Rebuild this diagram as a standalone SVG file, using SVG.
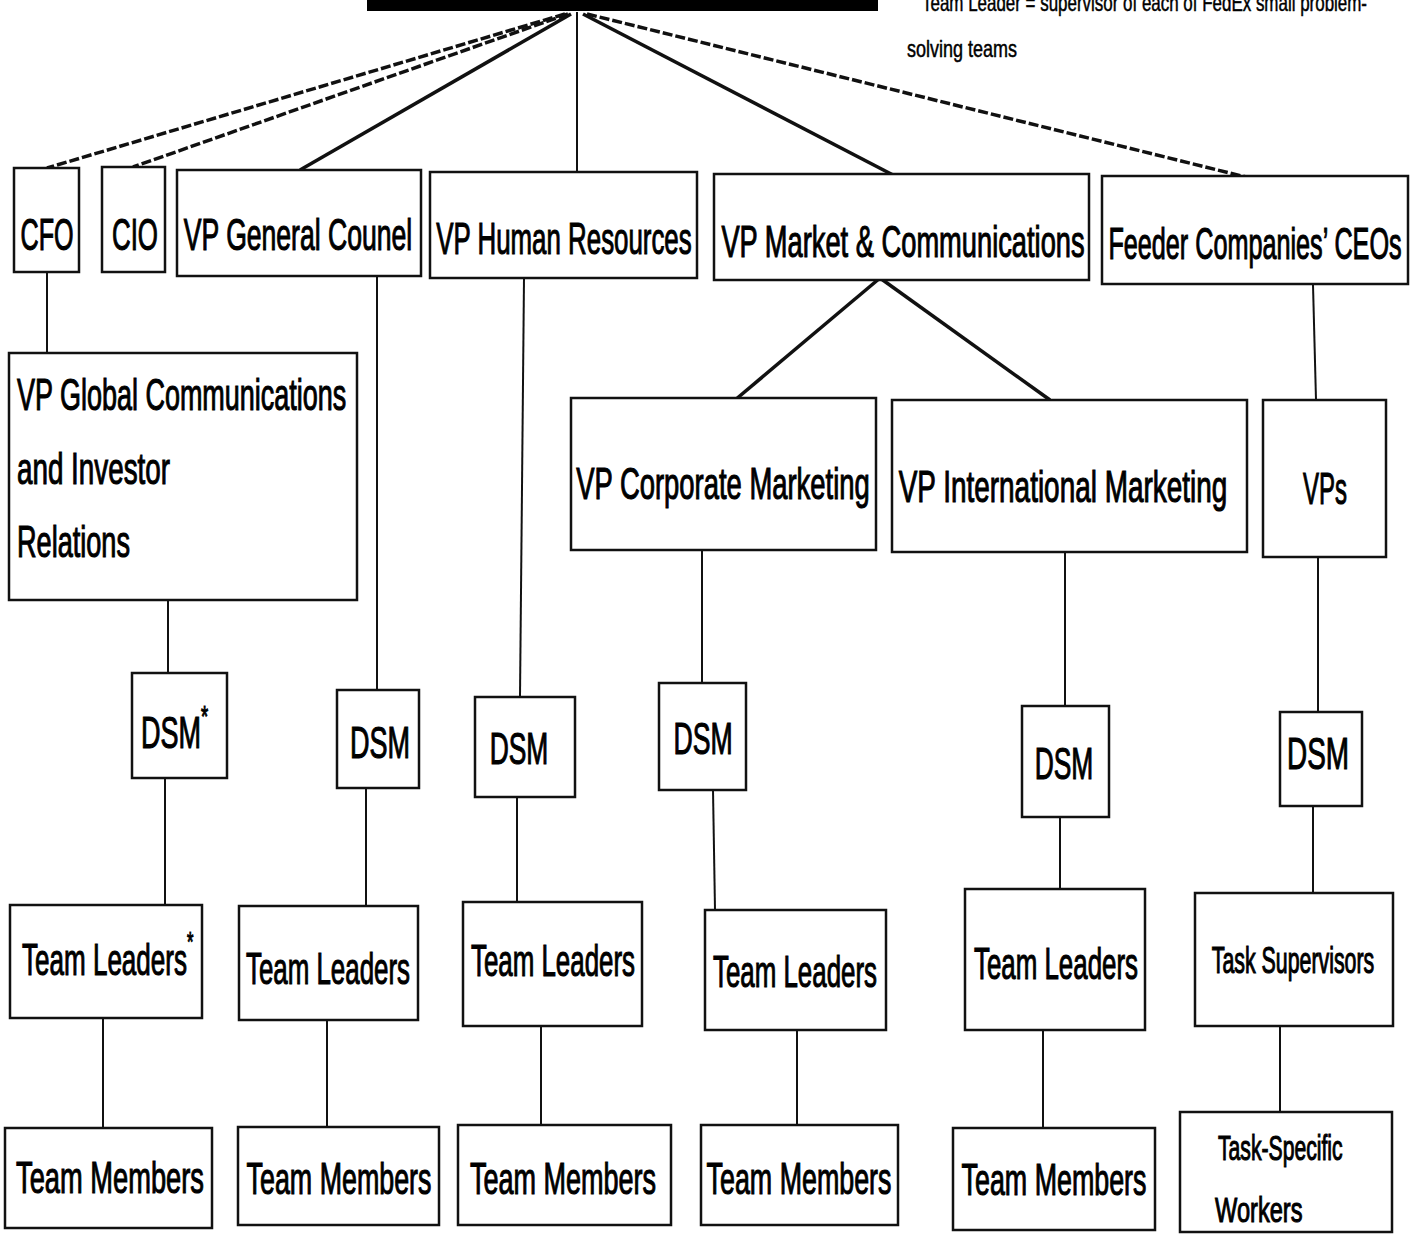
<svg xmlns="http://www.w3.org/2000/svg" width="1414" height="1237" viewBox="0 0 1414 1237">
<style>
.box{fill:#fff;stroke:#111;stroke-width:2.5}
.t{font-family:"Liberation Sans",Arial,sans-serif;font-size:44px;fill:#000;text-anchor:middle;stroke:#000;stroke-width:1.1}
.l{text-anchor:start}
.s{font-size:36px}
.c{stroke:#111;stroke-width:2;fill:none}
.f{stroke:#111;stroke-width:3.5;fill:none}
.d{stroke-dasharray:10 3}
.note{font-family:"Liberation Sans",Arial,sans-serif;font-size:24px;fill:#000;stroke:#000;stroke-width:0.5}
</style>
<rect x="0" y="0" width="1414" height="1237" fill="#fff"/>
<rect id="top-bar" x="367" y="0" width="511" height="11" fill="#000"/>
<g id="note">
<text class="note" x="922" y="11" textLength="445" lengthAdjust="spacingAndGlyphs">Team Leader = supervisor of each of FedEx small problem-</text>
<text class="note" transform="translate(907,57) scale(0.75,1)">solving teams</text>
</g>
<g id="connectors">
<line class="f d" x1="565" y1="14" x2="47" y2="168"/>
<line class="f d" x1="568" y1="14" x2="133" y2="167"/>
<line class="f" x1="571" y1="14" x2="300" y2="170"/>
<line class="c" x1="577" y1="12" x2="577" y2="172"/>
<line class="f" x1="583" y1="14" x2="895" y2="176"/>
<line class="f d" x1="587" y1="14" x2="1250" y2="178"/>
<line class="c" x1="47" y1="272" x2="47" y2="353"/>
<line class="f" x1="880" y1="278" x2="735" y2="400"/>
<line class="f" x1="880" y1="278" x2="1050" y2="400"/>
<line class="c" x1="1313" y1="285" x2="1316" y2="400"/>
<line class="c" x1="168" y1="600" x2="168" y2="673"/>
<line class="c" x1="377" y1="276" x2="377" y2="690"/>
<line class="c" x1="524" y1="278" x2="520" y2="697"/>
<line class="c" x1="702" y1="550" x2="702" y2="683"/>
<line class="c" x1="1065" y1="552" x2="1065" y2="706"/>
<line class="c" x1="1318" y1="557" x2="1318" y2="712"/>
<line class="c" x1="165" y1="778" x2="165" y2="905"/>
<line class="c" x1="366" y1="788" x2="366" y2="906"/>
<line class="c" x1="517" y1="797" x2="517" y2="902"/>
<line class="c" x1="713" y1="790" x2="715" y2="910"/>
<line class="c" x1="1060" y1="817" x2="1060" y2="889"/>
<line class="c" x1="1313" y1="806" x2="1313" y2="893"/>
<line class="c" x1="103" y1="1018" x2="103" y2="1128"/>
<line class="c" x1="327" y1="1020" x2="327" y2="1127"/>
<line class="c" x1="541" y1="1026" x2="541" y2="1125"/>
<line class="c" x1="797" y1="1030" x2="797" y2="1125"/>
<line class="c" x1="1043" y1="1030" x2="1043" y2="1128"/>
<line class="c" x1="1280" y1="1026" x2="1280" y2="1112"/>
</g>
<g id="cfo"><rect class="box" x="14" y="168" width="65" height="104"/><text class="t" transform="translate(47,250) scale(0.571,1)">CFO</text></g>
<g id="cio"><rect class="box" x="102" y="167" width="63" height="105"/><text class="t" transform="translate(135,250) scale(0.588,1)">CIO</text></g>
<g id="vp-general-counel"><rect class="box" x="177" y="170" width="244" height="106"/><text class="t" transform="translate(298,250) scale(0.604,1)">VP General Counel</text></g>
<g id="vp-human-resources"><rect class="box" x="430" y="172" width="267" height="106"/><text class="t" transform="translate(564,254) scale(0.588,1)">VP Human Resources</text></g>
<g id="vp-market-communications"><rect class="box" x="714" y="174" width="375" height="106"/><text class="t" transform="translate(903,257) scale(0.62,1)">VP Market &amp; Communications</text></g>
<g id="feeder-ceos"><rect class="box" x="1102" y="176" width="306" height="108"/><text class="t" transform="translate(1255,259) scale(0.573,1)">Feeder Companies’ CEOs</text></g>
<g id="vp-global-comm"><rect class="box" x="9" y="353" width="348" height="247"/>
<text class="t l" transform="translate(17,410) scale(0.613,1)">VP Global Communications</text>
<text class="t l" transform="translate(17,484) scale(0.632,1)">and Investor</text>
<text class="t l" transform="translate(17,557) scale(0.616,1)">Relations</text></g>
<g id="vp-corporate-marketing"><rect class="box" x="571" y="398" width="305" height="152"/><text class="t" transform="translate(723,499) scale(0.623,1)">VP Corporate Marketing</text></g>
<g id="vp-international-marketing"><rect class="box" x="892" y="400" width="355" height="152"/><text class="t" transform="translate(1063,502) scale(0.635,1)">VP International Marketing</text></g>
<g id="vps"><rect class="box" x="1263" y="400" width="123" height="157"/><text class="t" transform="translate(1325,504) scale(0.545,1)">VPs</text></g>
<g id="dsm-1"><rect class="box" x="132" y="673" width="95" height="105"/><text class="t l" transform="translate(141,748) scale(0.614,1)">DSM<tspan style="font-size:30px" dy="-22">*</tspan></text></g>
<g id="dsm-2"><rect class="box" x="337" y="690" width="82" height="98"/><text class="t" transform="translate(380,758) scale(0.614,1)">DSM</text></g>
<g id="dsm-3"><rect class="box" x="475" y="697" width="100" height="100"/><text class="t" transform="translate(519,764) scale(0.6,1)">DSM</text></g>
<g id="dsm-4"><rect class="box" x="659" y="683" width="87" height="107"/><text class="t" transform="translate(703,754) scale(0.605,1)">DSM</text></g>
<g id="dsm-5"><rect class="box" x="1022" y="706" width="87" height="111"/><text class="t" transform="translate(1064,779) scale(0.6,1)">DSM</text></g>
<g id="dsm-6"><rect class="box" x="1280" y="712" width="82" height="94"/><text class="t" transform="translate(1318,769) scale(0.635,1)">DSM</text></g>
<g id="team-leaders-1"><rect class="box" x="10" y="905" width="192" height="113"/><text class="t l" transform="translate(22,975) scale(0.592,1)">Team Leaders<tspan style="font-size:28px" dy="-24">*</tspan></text></g>
<g id="team-leaders-2"><rect class="box" x="239" y="906" width="179" height="114"/><text class="t" transform="translate(328,984) scale(0.589,1)">Team Leaders</text></g>
<g id="team-leaders-3"><rect class="box" x="463" y="902" width="179" height="124"/><text class="t" transform="translate(553,976) scale(0.589,1)">Team Leaders</text></g>
<g id="team-leaders-4"><rect class="box" x="705" y="910" width="181" height="120"/><text class="t" transform="translate(795,987) scale(0.589,1)">Team Leaders</text></g>
<g id="team-leaders-5"><rect class="box" x="965" y="889" width="180" height="141"/><text class="t" transform="translate(1056,979) scale(0.589,1)">Team Leaders</text></g>
<g id="task-supervisors"><rect class="box" x="1195" y="893" width="198" height="133"/><text class="t s" transform="translate(1293,973) scale(0.593,1)">Task Supervisors</text></g>
<g id="team-members-1"><rect class="box" x="5" y="1128" width="207" height="100"/><text class="t" transform="translate(110,1193) scale(0.62,1)">Team Members</text></g>
<g id="team-members-2"><rect class="box" x="238" y="1127" width="201" height="98"/><text class="t" transform="translate(339,1194) scale(0.61,1)">Team Members</text></g>
<g id="team-members-3"><rect class="box" x="458" y="1125" width="213" height="100"/><text class="t" transform="translate(563,1194) scale(0.614,1)">Team Members</text></g>
<g id="team-members-4"><rect class="box" x="701" y="1125" width="197" height="100"/><text class="t" transform="translate(799,1194) scale(0.61,1)">Team Members</text></g>
<g id="team-members-5"><rect class="box" x="953" y="1128" width="202" height="102"/><text class="t" transform="translate(1054,1195) scale(0.61,1)">Team Members</text></g>
<g id="task-specific-workers"><rect class="box" x="1180" y="1112" width="212" height="120"/>
<text class="t s l" transform="translate(1218,1160) scale(0.588,1)">Task-Specific</text>
<text class="t s l" transform="translate(1215,1222) scale(0.657,1)">Workers</text></g>
</svg>
